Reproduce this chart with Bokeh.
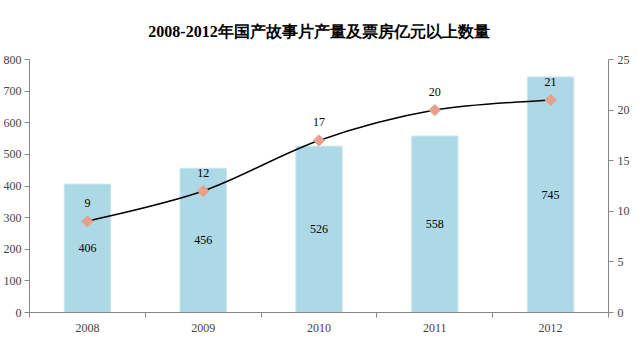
import math
from bokeh.plotting import figure
from bokeh.models import (Range1d, LinearAxis, FixedTicker, ColumnDataSource, Legend, LegendItem, Title)
from bokeh.core.properties import value
from bokeh.embed import file_html
from bokeh.resources import INLINE

years = ["2008", "2009", "2010", "2011", "2012"]
films = [406, 456, 526, 558, 745]
boxoffice = [9, 12, 17, 20, 21]
title_text = "2008-2012年国产故事片产量及票房亿元以上数量"
bar_name = "国产故事片产量"
line_name = "票房过亿数量"

SERIF = "Liberation Serif"
AX = "#868686"
BAR = "#ADD8E6"
MK = "#E8A08A"

xs = list(range(len(years)))

p = figure(frame_width=579, frame_height=253, height=347, output_backend="svg", toolbar_location=None,
           x_range=Range1d(-0.5, len(years) - 0.5), y_range=Range1d(0, 800),
           min_border_left=0, min_border_right=0, min_border_top=0, min_border_bottom=0)
p.outline_line_color = None
p.grid.visible = False
p.background_fill_color = "white"

p.title = Title(text=title_text, align="center", text_font=SERIF, text_font_size="16px",
                text_font_style="bold", text_color="#000000", standoff=40)

p.xaxis.ticker = FixedTicker(ticks=xs, minor_ticks=[i + 0.5 for i in range(-1, len(years))])
p.xaxis.major_label_overrides = {i: y for i, y in zip(xs, years)}
p.xaxis.major_tick_out = 0
p.xaxis.major_tick_in = 0
p.xaxis.minor_tick_out = 5
p.xaxis.minor_tick_in = 0
p.xaxis.minor_tick_line_color = AX
p.xaxis.axis_line_color = AX
p.xaxis.major_label_text_font = SERIF
p.xaxis.major_label_text_font_size = "12px"
p.xaxis.major_label_standoff = 6

p.yaxis.ticker = FixedTicker(ticks=list(range(0, 801, 100)))
p.yaxis.axis_line_color = AX
p.yaxis.major_tick_line_color = AX
p.yaxis.major_tick_out = 5
p.yaxis.major_tick_in = 0
p.yaxis.minor_tick_line_color = None
p.yaxis.major_label_text_font = SERIF
p.yaxis.major_label_text_font_size = "12px"
p.yaxis.major_label_standoff = 3

p.extra_y_ranges = {"y2": Range1d(0, 25)}
ax2 = LinearAxis(y_range_name="y2", ticker=FixedTicker(ticks=list(range(0, 26, 5))))
ax2.axis_line_color = AX
ax2.major_tick_line_color = AX
ax2.major_tick_out = 5
ax2.major_tick_in = 0
ax2.minor_tick_line_color = None
ax2.major_label_text_font = SERIF
ax2.major_label_text_font_size = "12px"
ax2.major_label_standoff = 4
p.add_layout(ax2, "right")

src = ColumnDataSource(dict(x=xs, films=films, half=[f / 2 for f in films],
                            box=boxoffice, flab=[str(f) for f in films],
                            blab=[str(b) for b in boxoffice]))

bars = p.vbar(x="x", top="films", width=0.4, source=src, fill_color=BAR, line_color="#C8E6EF", line_width=1)

# smooth line (Catmull-Rom style bezier, as in spreadsheet smoothed lines)
n = len(xs)
x0, y0, x1, y1, cx0, cy0, cx1, cy1 = [], [], [], [], [], [], [], []
for i in range(n - 1):
    pa = (xs[max(i - 1, 0)], boxoffice[max(i - 1, 0)])
    pb = (xs[i], boxoffice[i])
    pc = (xs[i + 1], boxoffice[i + 1])
    pd = (xs[min(i + 2, n - 1)], boxoffice[min(i + 2, n - 1)])
    x0.append(pb[0]); y0.append(pb[1]); x1.append(pc[0]); y1.append(pc[1])
    cx0.append(pb[0] + (pc[0] - pa[0]) / 6); cy0.append(pb[1] + (pc[1] - pa[1]) / 6)
    cx1.append(pc[0] - (pd[0] - pb[0]) / 6); cy1.append(pc[1] - (pd[1] - pb[1]) / 6)
p.bezier(x0=x0, y0=y0, x1=x1, y1=y1, cx0=cx0, cy0=cy0, cx1=cx1, cy1=cy1,
         y_range_name="y2", line_color="black", line_width=1.5)
leg_line = p.line(x=[xs[0]], y=[boxoffice[0]], y_range_name="y2", line_color="black", line_width=2)
marks = p.scatter(x="x", y="box", source=src, y_range_name="y2", marker="square", angle=math.pi / 4,
                  size=8, fill_color=MK, line_color=MK)

p.text(x="x", y="half", text="flab", source=src, text_align="center", text_baseline="middle",
       text_font=value(SERIF), text_font_size="12px", text_color="black")
p.text(x="x", y="box", text="blab", source=src, y_range_name="y2", y_offset=-18,
       text_align="center", text_baseline="middle",
       text_font=value(SERIF), text_font_size="12px", text_color="black")

legend = Legend(items=[LegendItem(label=bar_name, renderers=[bars]),
                       LegendItem(label=line_name, renderers=[leg_line, marks])],
                orientation="horizontal", location="top_center",
                label_text_font="Noto Sans CJK SC", label_text_font_size="12px",
                glyph_width=27, glyph_height=8, label_height=14, label_standoff=4, spacing=20,
                border_line_color=None, background_fill_alpha=0, padding=0, margin=3)
p.add_layout(legend, "below")

open("out.html", "w").write(file_html(p, INLINE))
